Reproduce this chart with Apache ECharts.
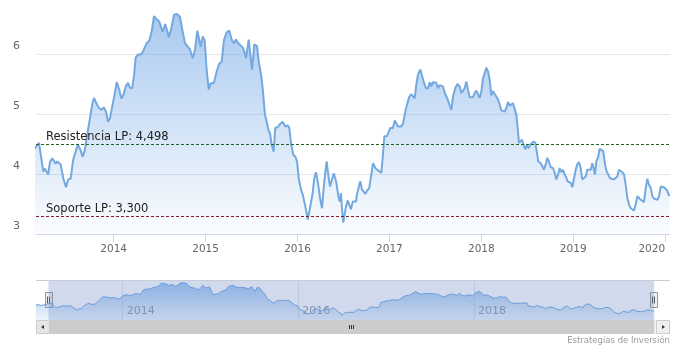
<!DOCTYPE html>
<html><head><meta charset="utf-8">
<script src="https://cdn.jsdelivr.net/npm/echarts@6/dist/echarts.min.js"></script>
<style>html,body{margin:0;padding:0;background:#fff}#c{width:675px;height:354px}</style>
</head><body><div id="c"></div>
<script>
// ---- data (time in fractional years) ----
const years = [
2013.010,2013.040,2013.070,2013.100,2013.130,
2013.151,2013.187,2013.212,2013.234,2013.253,2013.271,2013.288,2013.307,2013.332,2013.350,2013.369,2013.386,2013.405,2013.423,2013.452,2013.481,2013.506,2013.532,2013.560,2013.587,2013.612,2013.641,2013.663,2013.684,2013.713,2013.742,2013.767,2013.786,2013.815,2013.840,2013.869,2013.894,2013.919,2013.938,2013.960,2013.985,
2014.011,2014.033,2014.058,2014.083,2014.104,2014.131,2014.156,2014.177,2014.202,2014.221,2014.239,2014.264,2014.294,2014.316,
2014.359,2014.387,2014.413,2014.439,2014.468,2014.496,2014.533,2014.561,2014.577,2014.602,2014.631,2014.656,2014.685,2014.721,2014.751,2014.776,2014.801,2014.830,2014.860,2014.885,2014.910,2014.928,2014.947,2014.968,2014.990,
2015.012,2015.034,2015.055,2015.091,2015.121,2015.149,2015.175,2015.200,2015.230,2015.258,2015.284,2015.309,2015.331,2015.356,2015.374,2015.404,2015.429,
2015.440,2015.469,2015.505,2015.530,2015.559,2015.578,2015.603,2015.621,2015.646,2015.665,2015.682,2015.701,2015.719,2015.741,2015.758,2015.785,2015.802,2015.820,2015.839,2015.867,2015.893,2015.911,2015.929,2015.954,2015.976,2015.995,
2016.013,2016.038,2016.057,2016.074,2016.092,2016.111,2016.128,2016.147,2016.165,2016.183,2016.201,2016.220,2016.245,2016.267,2016.285,2016.303,2016.318,2016.332,2016.354,2016.372,2016.394,2016.411,2016.427,2016.444,2016.459,2016.473,2016.484,2016.498,2016.514,2016.528,2016.546,2016.564,2016.582,2016.601,2016.618,2016.637,
2016.647,2016.683,2016.702,2016.720,2016.738,2016.756,2016.781,2016.803,2016.822,2016.847,2016.876,2016.912,2016.927,2016.945,2016.974,2016.992,
2017.010,2017.036,2017.058,2017.075,2017.094,2017.112,2017.130,2017.148,2017.167,2017.192,2017.217,2017.238,2017.257,2017.275,2017.293,2017.311,2017.336,2017.355,2017.373,2017.398,2017.420,2017.439,2017.456,2017.474,2017.493,2017.510,2017.529,2017.547,2017.565,2017.583,2017.602,2017.627,2017.652,2017.674,2017.692,2017.717,2017.739,
2017.765,2017.782,2017.801,2017.819,2017.837,2017.855,2017.874,2017.891,2017.910,2017.928,2017.946,2017.964,2017.983,
2018.000,2018.019,2018.037,2018.054,2018.073,2018.091,2018.109,2018.127,2018.146,2018.163,2018.182,2018.200,2018.218,2018.236,2018.255,2018.272,2018.291,2018.309,2018.326,2018.345,2018.363,2018.381,2018.399,2018.410,2018.429,2018.443,2018.461,2018.479,2018.497,2018.516,2018.533,2018.552,2018.566,2018.588,2018.606,2018.620,2018.646,2018.664,2018.682,2018.701,2018.718,2018.737,2018.755,2018.780,2018.799,2018.816,2018.835,2018.853,2018.871,2018.889,
2018.907,2018.925,2018.936,2018.954,2018.973,2018.990,
2019.009,2019.027,2019.044,2019.063,2019.081,2019.099,2019.117,2019.136,2019.153,2019.172,2019.190,2019.208,2019.226,2019.237,2019.251,2019.270,2019.288,2019.306,2019.327,2019.346,2019.364,2019.382,2019.400,2019.419,2019.441,2019.462,2019.480,2019.498,2019.517,2019.534,2019.553,2019.571,2019.589,2019.607,2019.626,2019.643,2019.662,2019.680,2019.698,2019.716,2019.735,2019.752,2019.770,2019.789,2019.806,2019.825,2019.843,2019.861,2019.879,2019.898,2019.915,2019.934,2019.952,2019.970,2019.988,
2020.007,2020.024,2020.046
];
const values = [
4.30,4.36,4.25,4.33,4.40,
4.43,4.52,4.27,4.04,4.09,4.07,3.99,4.20,4.26,4.27,4.17,4.21,4.24,4.16,3.93,3.78,3.91,3.92,4.24,4.38,4.49,4.39,4.29,4.38,4.66,4.93,5.16,5.27,5.17,5.10,5.07,5.11,5.03,4.87,4.93,5.13,
5.33,5.53,5.42,5.26,5.31,5.46,5.52,5.44,5.43,5.63,5.94,5.99,5.99,6.03,
6.18,6.22,6.37,6.63,6.58,6.54,6.37,6.50,6.52,6.28,6.46,6.65,6.67,6.62,6.37,6.18,6.13,6.08,5.93,6.07,6.39,6.41,6.12,6.29,6.23,
5.73,5.41,5.51,5.52,5.71,5.84,5.87,6.23,6.36,6.39,6.24,6.18,6.24,6.18,6.20,6.11,6.01,
5.93,6.24,5.74,6.16,6.13,5.88,5.66,5.43,4.99,4.88,4.74,4.68,4.49,4.37,4.77,4.78,4.82,4.81,4.87,4.79,4.81,4.77,4.52,4.32,4.29,4.21,
3.93,3.74,3.66,3.63,3.41,3.24,3.37,3.38,3.68,3.93,4.03,3.88,3.60,3.43,3.77,4.04,4.21,4.02,3.79,3.82,4.01,3.93,3.82,3.63,3.54,3.68,3.43,3.19,3.21,3.46,3.56,3.53,3.41,3.54,3.57,3.54,
3.66,3.88,3.74,3.72,3.67,3.72,3.77,3.99,4.18,4.10,4.06,4.02,4.27,4.63,4.63,4.66,
4.77,4.76,4.89,4.88,4.79,4.82,4.79,4.84,5.00,5.16,5.29,5.33,5.31,5.26,5.49,5.66,5.74,5.72,5.54,5.43,5.43,5.53,5.46,5.53,5.56,5.52,5.43,5.48,5.46,5.46,5.35,5.27,5.16,5.07,5.29,5.43,5.50,
5.46,5.35,5.32,5.43,5.54,5.41,5.28,5.31,5.28,5.35,5.39,5.41,5.27,
5.37,5.60,5.68,5.77,5.71,5.57,5.31,5.38,5.39,5.29,5.24,5.16,5.06,5.03,5.04,5.10,5.20,5.14,5.13,5.18,5.16,4.99,4.71,4.52,4.54,4.57,4.48,4.41,4.48,4.43,4.49,4.46,4.54,4.52,4.49,4.21,4.18,4.13,4.07,4.16,4.27,4.20,4.11,4.10,4.02,3.91,3.99,4.10,4.03,4.07,
3.99,3.94,3.88,3.85,3.85,3.78,
3.93,4.07,4.16,4.20,4.10,3.91,3.88,3.96,4.07,4.06,4.07,4.18,4.07,3.99,4.21,4.27,4.42,4.41,4.38,4.16,4.04,3.99,3.93,3.91,3.91,3.92,3.96,4.07,4.09,4.03,3.99,3.82,3.60,3.49,3.43,3.41,3.39,3.49,3.63,3.61,3.57,3.54,3.53,3.77,3.92,3.82,3.77,3.63,3.59,3.60,3.57,3.63,3.79,3.79,3.78,
3.77,3.72,3.63
];
const xTickYears = [2014, 2015, 2016, 2017, 2018, 2019, 2020];
const navTickYears = [2014, 2016, 2018];
const yTicks = [3, 4, 5, 6];
const resistance = 4.498;
const support = 3.300;
const resistanceName = 'Resistencia LP';
const supportName = 'Soporte LP';
const viewRange = [2013.155, 2020.053];
const navRange = [2013.0125, 2020.233];
const creditText = 'Estrategias de Inversión';

// ---- chart ----
const FONT = 'DejaVu Sans';
const fmt = v => v.toFixed(3).replace('.', ',');
const seriesData = years.map((y, i) => [y, values[i]]);
const NAV = {left: 36, right: 5, top: 280, height: 40};

const chart = echarts.init(document.getElementById('c'), null, {renderer: 'canvas'});
const option = {
  animation: false,
  backgroundColor: '#fff',
  textStyle: {fontFamily: FONT},
  grid: [
    {left: 36, right: 5, top: -6, height: 240, containLabel: false, outerBoundsMode: 'none'},
    {left: NAV.left, right: NAV.right, top: NAV.top, height: NAV.height, containLabel: false, outerBoundsMode: 'none'}
  ],
  xAxis: [
    {
      type: 'value', gridIndex: 0, min: viewRange[0], max: viewRange[1],
      axisLine: {lineStyle: {color: '#ccd6eb'}},
      axisTick: {customValues: xTickYears, length: 8, lineStyle: {color: '#ccd6eb'}},
      axisLabel: {customValues: xTickYears, formatter: v => String(Math.round(v)),
        color: '#666', fontSize: 10.5, fontFamily: FONT, margin: 10, alignMaxLabel: 'right'},
      splitLine: {show: false}
    },
    {
      type: 'value', gridIndex: 1, min: navRange[0], max: navRange[1],
      axisLine: {show: false},
      axisTick: {show: false, customValues: navTickYears},
      axisLabel: {customValues: navTickYears, formatter: v => String(Math.round(v)),
        inside: true, margin: 3, align: 'left', padding: [0, 0, 0, 4],
        color: '#999', fontSize: 11, fontFamily: FONT},
      splitLine: {show: true, lineStyle: {color: '#e6e6e6'}}
    }
  ],
  yAxis: [
    {
      type: 'value', gridIndex: 0, min: 3, max: 7, interval: 1,
      axisLine: {show: false}, axisTick: {show: false},
      axisLabel: {customValues: yTicks, color: '#666', fontSize: 11, fontFamily: FONT, margin: 16,
        verticalAlign: 'bottom', padding: [0, 0, 2, 0], showMaxLabel: true},
      splitLine: {lineStyle: {color: '#e6e6e6'}}
    },
    {type: 'value', gridIndex: 1, min: 2.72, max: 6.96, show: false}
  ],
  series: [
    {
      type: 'line', xAxisIndex: 0, yAxisIndex: 0, data: seriesData,
      showSymbol: false, symbol: 'none', clip: true,
      lineStyle: {color: '#74a9e0', width: 2},
      areaStyle: {color: new echarts.graphic.LinearGradient(0, 0, 0, 1, [
        {offset: 0, color: 'rgba(110,165,230,0.85)'},
        {offset: 1, color: 'rgba(110,165,230,0.04)'}
      ])},
      markLine: {
        silent: true, symbol: 'none', animation: false,
        lineStyle: {type: [3, 2], width: 1},
        label: {position: 'insideStartTop', distance: [10, 1], color: '#222', fontSize: 11.5, fontFamily: FONT},
        data: [
          {yAxis: resistance, lineStyle: {color: '#1b6320', type: [3, 2], width: 1},
            label: {formatter: resistanceName + ': ' + fmt(resistance)}},
          {yAxis: support, lineStyle: {color: '#8a1a2c', type: [3, 2], width: 1},
            label: {formatter: supportName + ': ' + fmt(support)}}
        ]
      }
    },
    {
      type: 'line', xAxisIndex: 1, yAxisIndex: 1, data: seriesData,
      showSymbol: false, symbol: 'none',
      lineStyle: {color: '#6b9bd8', width: 1},
      areaStyle: {color: new echarts.graphic.LinearGradient(0, 0, 0, 1, [
        {offset: 0, color: 'rgba(95,150,220,0.85)'},
        {offset: 1, color: 'rgba(95,150,220,0.15)'}
      ])},
      markArea: {
        silent: true,
        itemStyle: {color: 'rgba(102,133,194,0.3)'},
        data: [[{xAxis: viewRange[0]}, {xAxis: viewRange[1]}]]
      }
    }
  ]
};
chart.setOption(option);

// ---- navigator decorations (handles, scrollbar, credits) ----
const xL = chart.convertToPixel({xAxisIndex: 1}, viewRange[0]);
const xR = chart.convertToPixel({xAxisIndex: 1}, viewRange[1]);
const nL = NAV.left, nR = 675 - NAV.right, nT = NAV.top, nB = NAV.top + NAV.height;
const sbH = 14;
function handle(cx) {
  const hy = nT + NAV.height / 2 - 7.5;
  return {type: 'group', children: [
    {type: 'rect', shape: {x: Math.round(cx) - 3.5, y: hy, width: 7, height: 15},
      style: {fill: '#f2f2f2', stroke: '#999', lineWidth: 1}},
    {type: 'line', shape: {x1: Math.round(cx) - 1.5, y1: hy + 4, x2: Math.round(cx) - 1.5, y2: hy + 11}, style: {stroke: '#555', lineWidth: 1}},
    {type: 'line', shape: {x1: Math.round(cx) + 0.5, y1: hy + 4, x2: Math.round(cx) + 0.5, y2: hy + 11}, style: {stroke: '#555', lineWidth: 1}}
  ]};
}
const thumbC = Math.round((xL + xR) / 2) + 0.5;
chart.setOption({graphic: [
  {type: 'line', shape: {x1: nL, y1: nT + 0.5, x2: nR, y2: nT + 0.5}, style: {stroke: '#c8ccd6', lineWidth: 1}, z: 10},
  {type: 'rect', shape: {x: nL, y: nB, width: nR - nL, height: sbH}, style: {fill: '#f2f2f2'}, z: 10},
  {type: 'rect', shape: {x: xL, y: nB, width: xR - xL, height: sbH}, style: {fill: '#cccccc'}, z: 10},
  {type: 'rect', shape: {x: nL + 0.5, y: nB + 0.5, width: 13, height: sbH - 1}, style: {fill: '#e6e6e6', stroke: '#cccccc', lineWidth: 1}, z: 11},
  {type: 'rect', shape: {x: nR - 13.5, y: nB + 0.5, width: 13, height: sbH - 1}, style: {fill: '#f0f0f0', stroke: '#cccccc', lineWidth: 1}, z: 11},
  {type: 'polygon', shape: {points: [[nL + 5, nB + 7], [nL + 8, nB + 5], [nL + 8, nB + 9]]}, style: {fill: '#333'}, z: 12},
  {type: 'polygon', shape: {points: [[nR - 5, nB + 7], [nR - 8, nB + 5], [nR - 8, nB + 9]]}, style: {fill: '#333'}, z: 12},
  {type: 'line', shape: {x1: thumbC - 2, y1: nB + 5, x2: thumbC - 2, y2: nB + 9}, style: {stroke: '#333', lineWidth: 1}, z: 12},
  {type: 'line', shape: {x1: thumbC, y1: nB + 5, x2: thumbC, y2: nB + 9}, style: {stroke: '#333', lineWidth: 1}, z: 12},
  {type: 'line', shape: {x1: thumbC + 2, y1: nB + 5, x2: thumbC + 2, y2: nB + 9}, style: {stroke: '#333', lineWidth: 1}, z: 12},
  Object.assign(handle(xL), {z: 13}),
  Object.assign(handle(xR), {z: 13}),
  {type: 'text', x: nR, y: nB + sbH + 7, style: {text: creditText, fill: '#999', fontSize: 8.5, fontFamily: FONT, align: 'right', verticalAlign: 'middle'}, z: 10}
]});
</script>
</body></html>
